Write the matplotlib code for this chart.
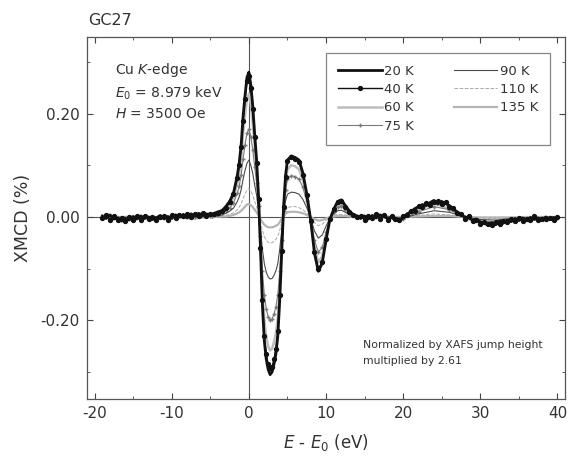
import matplotlib
matplotlib.use("Agg")
import matplotlib.pyplot as plt
from matplotlib.ticker import MultipleLocator, FormatStrFormatter
import numpy as np

plt.rcParams['font.family'] = ['DejaVu Sans']
plt.rcParams['axes.unicode_minus'] = False

#%% data

x_left = [-19, -18.5, -18, -17.5, -17, -16.5, -16, -15.5, -15, -14.5, -14, -13.5, -13, -12.5, -12,
          -11.5, -11, -10.5, -10, -9.5, -9, -8.5, -8, -7.5, -7, -6.5, -6, -5.5, -5, -4.5]
x_core = [-4, -3.5, -3, -2.5, -2, -1.5, -1.25, -1, -0.75, -0.5, -0.25, 0, 0.25, 0.5, 0.75, 1,
          1.25, 1.5, 1.75, 2, 2.25, 2.5, 2.75, 3, 3.25, 3.5, 3.75, 4, 4.25, 4.5, 4.75, 5,
          5.5, 6, 6.5, 7, 7.5, 8, 8.5, 9, 9.5, 10, 10.5, 11, 11.5, 12, 12.5, 13, 13.5, 14]
x_right = [14.5, 15, 15.5, 16, 16.5, 17, 17.5, 18, 18.5, 19, 19.5, 20, 20.5, 21, 21.5, 22, 22.5,
           23, 23.5, 24, 24.5, 25, 25.5, 26, 26.5, 27, 27.5, 28, 28.5, 29, 29.5, 30, 30.5, 31,
           31.5, 32, 32.5, 33, 33.5, 34, 34.5, 35, 35.5, 36, 36.5, 37, 37.5, 38, 38.5, 39, 39.5, 40]
x_hi_left = [-19, -15, -11, -7, -5, -4.75, -4.5]
x_hi_right = [16, 18, 20, 22, 24, 26, 28, 30, 32, 34, 36, 38, 40]

# 20 K
y20_left = [0.002, -0.003, 0.004, -0.004, -0.002, -0.008, -0.003, -0.006, 0.001, -0.004, 0.002,
            -0.003, 0.000, -0.005, -0.002, 0.003, -0.004, 0.001, -0.003, 0.004, 0.000, 0.005,
            -0.002, 0.006, 0.002, 0.007, 0.003, 0.006, 0.004, 0.007]
y20_core = [0.010, 0.012, 0.020, 0.030, 0.046, 0.080, 0.105, 0.140, 0.195, 0.235, 0.270, 0.280,
            0.255, 0.215, 0.160, 0.110, 0.040, -0.060, -0.170, -0.240, -0.275, -0.295, -0.305,
            -0.300, -0.285, -0.265, -0.230, -0.160, -0.070, 0.020, 0.080, 0.110, 0.118, 0.115,
            0.110, 0.085, 0.045, -0.005, -0.070, -0.105, -0.090, -0.045, -0.005, 0.015, 0.030,
            0.033, 0.022, 0.012, 0.005, 0.002]
y20_right = [-0.003, 0.002, -0.004, 0.003, -0.002, 0.004, 0.001, -0.003, -0.001, -0.006, -0.008,
             -0.002, 0.006, 0.010, 0.016, 0.020, 0.024, 0.022, 0.028, 0.032, 0.025, 0.030, 0.026,
             0.022, 0.015, 0.010, 0.004, 0.000, -0.002, -0.006, -0.004, -0.010, -0.012, -0.016,
             -0.011, -0.015, -0.008, -0.012, -0.006, -0.009, -0.003, -0.007, -0.002, -0.006,
             -0.001, -0.005, -0.002, -0.006, 0.000, -0.004, -0.001, -0.003]

# 40 K
y40_left = [-0.002, 0.003, -0.005, 0.001, -0.006, -0.002, -0.007, 0.000, -0.005, 0.001, -0.006,
            0.002, -0.004, -0.001, -0.006, 0.000, 0.002, -0.005, 0.003, -0.002, 0.004, 0.001,
            0.006, 0.000, 0.005, 0.002, 0.008, 0.002, 0.006, 0.005]
y40_core = [0.008, 0.012, 0.018, 0.028, 0.044, 0.076, 0.100, 0.135, 0.185, 0.228, 0.262, 0.272,
            0.250, 0.208, 0.155, 0.105, 0.035, -0.060, -0.160, -0.230, -0.265, -0.285, -0.292,
            -0.290, -0.275, -0.255, -0.220, -0.150, -0.065, 0.020, 0.078, 0.108, 0.116, 0.113,
            0.106, 0.082, 0.042, -0.008, -0.068, -0.100, -0.088, -0.043, -0.004, 0.016, 0.028,
            0.030, 0.020, 0.010, 0.004, 0.000]
y40_right = [0.002, -0.005, 0.001, -0.002, 0.005, -0.003, 0.003, -0.005, 0.001, -0.004, -0.006,
             0.002, 0.004, 0.012, 0.012, 0.022, 0.019, 0.027, 0.024, 0.029, 0.031, 0.025, 0.028,
             0.019, 0.018, 0.007, 0.006, -0.003, 0.001, -0.008, -0.006, -0.013, -0.009, -0.014,
             -0.015, -0.010, -0.013, -0.007, -0.010, -0.004, -0.008, -0.002, -0.007, -0.003,
             -0.006, 0.001, -0.005, -0.003, -0.004, -0.002, -0.005, 0.000]

# 60 K
y60_left = [0.001, -0.002, 0.000, -0.003, 0.001, -0.002, 0.002]
y60_core = [0.006, 0.010, 0.015, 0.024, 0.038, 0.065, 0.085, 0.115, 0.160, 0.198, 0.228, 0.238,
            0.218, 0.182, 0.135, 0.092, 0.030, -0.050, -0.140, -0.200, -0.232, -0.250, -0.258,
            -0.255, -0.242, -0.225, -0.195, -0.135, -0.058, 0.016, 0.066, 0.092, 0.100, 0.098,
            0.092, 0.072, 0.038, -0.004, -0.058, -0.088, -0.076, -0.038, -0.004, 0.012, 0.025,
            0.028, 0.018, 0.010, 0.004, 0.001]
y60_right = [0.001, -0.002, -0.004, 0.014, 0.026, 0.016, -0.002, -0.010, -0.012, -0.006, -0.004,
             -0.003, -0.002]

# 75 K
y75_left = [0.000, -0.002, 0.001, -0.001, 0.001, 0.002, 0.003]
y75_core = [0.004, 0.007, 0.011, 0.017, 0.027, 0.046, 0.060, 0.082, 0.113, 0.140, 0.162, 0.170,
            0.155, 0.130, 0.097, 0.066, 0.022, -0.036, -0.105, -0.150, -0.178, -0.193, -0.200,
            -0.198, -0.188, -0.174, -0.150, -0.104, -0.045, 0.012, 0.052, 0.073, 0.080, 0.078,
            0.073, 0.057, 0.030, -0.003, -0.045, -0.068, -0.059, -0.030, -0.003, 0.010, 0.019,
            0.022, 0.014, 0.008, 0.003, 0.001]
y75_right = [0.000, -0.001, -0.003, 0.010, 0.020, 0.014, -0.001, -0.008, -0.009, -0.005, -0.003,
             -0.002, -0.002]

# 90 K
y90_left = [0.000, -0.001, 0.001, 0.000, 0.001, 0.001, 0.002]
y90_core = [0.002, 0.004, 0.007, 0.011, 0.017, 0.030, 0.039, 0.053, 0.073, 0.090, 0.104, 0.110,
            0.100, 0.084, 0.062, 0.042, 0.014, -0.022, -0.063, -0.090, -0.107, -0.116, -0.120,
            -0.119, -0.113, -0.104, -0.090, -0.062, -0.027, 0.007, 0.031, 0.044, 0.048, 0.047,
            0.044, 0.034, 0.018, -0.002, -0.027, -0.041, -0.035, -0.018, -0.002, 0.006, 0.012,
            0.013, 0.009, 0.005, 0.002, 0.000]
y90_right = [0.000, 0.000, -0.002, 0.006, 0.012, 0.009, 0.000, -0.005, -0.006, -0.003, -0.002,
             -0.001, -0.001]

# 110 K
y110_left = [0.000, 0.000, -0.001, 0.000, 0.000, 0.001, 0.001]
y110_core = [0.001, 0.002, 0.003, 0.005, 0.008, 0.014, 0.019, 0.026, 0.036, 0.045, 0.052, 0.055,
             0.050, 0.042, 0.031, 0.020, 0.006, -0.010, -0.026, -0.038, -0.045, -0.049, -0.050,
             -0.050, -0.047, -0.043, -0.037, -0.026, -0.011, 0.003, 0.013, 0.018, 0.020, 0.020,
             0.018, 0.014, 0.007, -0.001, -0.011, -0.017, -0.014, -0.007, -0.001, 0.003, 0.005,
             0.005, 0.004, 0.002, 0.001, 0.000]
y110_right = [0.000, 0.000, -0.001, 0.003, 0.006, 0.004, 0.000, -0.002, -0.003, -0.002, -0.001,
              0.000, 0.000]

# 135 K
y135_left = [0.000, 0.000, 0.000, 0.000, 0.000, 0.000, 0.000]
y135_core = [0.000, 0.001, 0.001, 0.002, 0.004, 0.007, 0.009, 0.012, 0.016, 0.020, 0.024, 0.025,
             0.023, 0.019, 0.014, 0.009, 0.003, -0.004, -0.010, -0.015, -0.018, -0.020, -0.020,
             -0.020, -0.019, -0.017, -0.015, -0.010, -0.004, 0.001, 0.006, 0.009, 0.010, 0.010,
             0.009, 0.007, 0.004, 0.000, -0.004, -0.007, -0.006, -0.003, 0.000, 0.001, 0.002,
             0.002, 0.002, 0.001, 0.000, 0.000]
y135_right = [0.000, 0.000, 0.000, 0.001, 0.002, 0.002, 0.000, -0.001, -0.001, -0.001, 0.000,
              0.000, 0.000]

labels = ['20 K', '40 K', '60 K', '75 K', '90 K', '110 K', '135 K']

#%% plot

fig = plt.figure(figsize=(5.68, 4.57), dpi=100)
ax = fig.add_axes([0.153, 0.127, 0.842, 0.792])

ax.axhline(0, color='#555555', lw=0.8, zorder=1)
ax.axvline(0, color='#555555', lw=0.8, zorder=1)

x_full = x_left + x_core + x_right
x_hi = x_hi_left + x_core + x_hi_right

ax.plot(x_full, y20_left + y20_core + y20_right, label=labels[0],
        color='#111111', lw=2.0, zorder=9)
ax.plot(x_full, y40_left + y40_core + y40_right, label=labels[1],
        color='#111111', lw=1.0, marker='o', ms=2.8, zorder=8)
ax.plot(x_hi, y60_left + y60_core + y60_right, label=labels[2],
        color='#bdbdbd', lw=1.8, zorder=3)
ax.plot(x_hi, y75_left + y75_core + y75_right, label=labels[3],
        color='#7a7a7a', lw=0.8, marker='+', ms=3, zorder=5)
ax.plot(x_hi, y90_left + y90_core + y90_right, label=labels[4],
        color='#4a4a4a', lw=0.8, zorder=6)
ax.plot(x_hi, y110_left + y110_core + y110_right, label=labels[5],
        color='#aaaaaa', lw=0.7, ls='--', zorder=4)
ax.plot(x_hi, y135_left + y135_core + y135_right, label=labels[6],
        color='#b5b5b5', lw=1.6, zorder=2)

ax.set_xlim(-21, 41)
ax.set_ylim(-0.352, 0.348)

ax.xaxis.set_major_locator(MultipleLocator(10))
ax.xaxis.set_minor_locator(MultipleLocator(5))
ax.yaxis.set_major_locator(MultipleLocator(0.2))
ax.yaxis.set_minor_locator(MultipleLocator(0.1))
ax.yaxis.set_major_formatter(FormatStrFormatter('%.2f'))
ax.tick_params(which='both', direction='in', top=True, right=True, colors='#444444',
               labelcolor='#333333', labelsize=11)
ax.tick_params(which='major', length=4, pad=5)
ax.tick_params(which='minor', length=2.5)
for s in ax.spines.values():
    s.set_color('#555555')
    s.set_linewidth(0.9)

ax.set_xlabel('$E$ - $E_0$ (eV)', fontsize=12, color='#333333', labelpad=8)
ax.set_ylabel('XMCD (%)', fontsize=12.5, color='#333333', labelpad=6)
fig.text(0.155, 0.945, 'GC27', fontsize=11.5, color='#333333')

ax.text(0.058, 0.935, 'Cu $K$-edge\n$E_0$ = 8.979 keV\n$H$ = 3500 Oe', transform=ax.transAxes,
        va='top', ha='left', fontsize=10, color='#333333', linespacing=1.45)
ax.text(0.577, 0.162, 'Normalized by XAFS jump height\nmultiplied by 2.61', transform=ax.transAxes,
        va='top', ha='left', fontsize=7.8, color='#333333', linespacing=1.65)

leg = ax.legend(ncol=2, loc='upper right', bbox_to_anchor=(0.969, 0.956), borderaxespad=0,
                fontsize=9.5, frameon=True, fancybox=False, edgecolor='#666666',
                handlelength=3.3, columnspacing=3.0, labelspacing=0.4, borderpad=0.9,
                handletextpad=0.2)
leg.get_frame().set_linewidth(0.9)
for t in leg.get_texts():
    t.set_color('#333333')

fig.savefig('out.png', dpi=100)
